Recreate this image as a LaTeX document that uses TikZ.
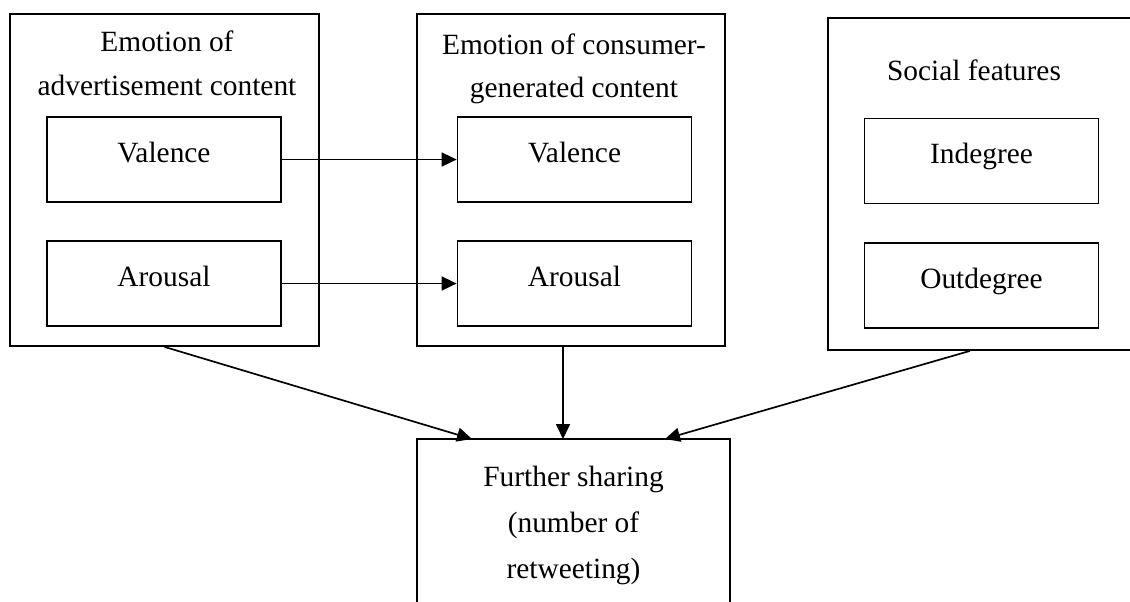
\documentclass[tikz,border=0pt]{standalone}
\usepackage{fontspec}
\setmainfont{Liberation Serif}
\usetikzlibrary{arrows.meta}
\tikzset{
	outerbox/.style={draw, line width=1.2pt, minimum height=8.3cm, inner sep=0pt},
	innerbox/.style={draw, line width=1.2pt, minimum width=5.85cm, minimum height=2.125cm, text height=0.68em, text depth=0.3em},
	boxtitle/.style={align=center, inner sep=0pt},
	arr/.style={line width=1.2pt, -{Triangle[length=0.375cm,width=0.35cm]}}
}
\begin{document}
\begin{tikzpicture}[x=0.025cm, y=-0.025cm, font=\fontsize{20.9pt}{30.9pt}\selectfont]
	\useasboundingbox (0,0) rectangle (1130,601);
	\clip (0,0) rectangle (1130,601);
	%outer boxes----------------------------
	\node[outerbox, minimum width=7.725cm] (adv) at (164.5,180) {}; %advertisement
	\node[outerbox, minimum width=7.7cm] (cgc) at (571,180) {}; %consumer-generated
	\node[outerbox, minimum width=7.8cm] (soc) at (984,184) {}; %social
	\node[boxtitle] (advT) at (167,63.5) {Emotion of\\advertisement content};
	\node[boxtitle] (cgcT) at (574,69) {Emotion of consumer-\\generated content};
	\node[boxtitle] (socT) at (974,70) {Social features};
	%inner boxes----------------------------
	\node[innerbox] (valA) at (164,159.5) {Valence};
	\node[innerbox] (aroA) at (164,283.5) {Arousal};
	\node[innerbox] (valC) at (574.5,159.5) {Valence};
	\node[innerbox] (aroC) at (574.5,283.5) {Arousal};
	\node[innerbox] (inDeg) at (981.5,161) {Indegree};
	\node[innerbox] (outDeg) at (981.5,285.5) {Outdegree};
	%outcome box
	\node[draw, line width=1.2pt, minimum width=7.825cm, minimum height=4.3cm, align=center,
		font=\fontsize{20.9pt}{32.7pt}\selectfont] (share) at (573.5,525) {Further sharing\\(number of\\retweeting)};
	%arrows---------------------------------
	\coordinate (inL) at (472,439);
	\coordinate (inM) at (563,439);
	\coordinate (inR) at (665,439);
	\draw[arr] (valA.east) -- (valC.west); %valence
	\draw[arr] (aroA.east) -- (aroC.west); %arousal
	\draw[arr] (adv.south) -- (inL);
	\draw[arr] (cgc.south -| inM) -- (inM);
	\draw[arr] ([xshift=-0.35cm]soc.south) -- (inR);
\end{tikzpicture}
\end{document}
